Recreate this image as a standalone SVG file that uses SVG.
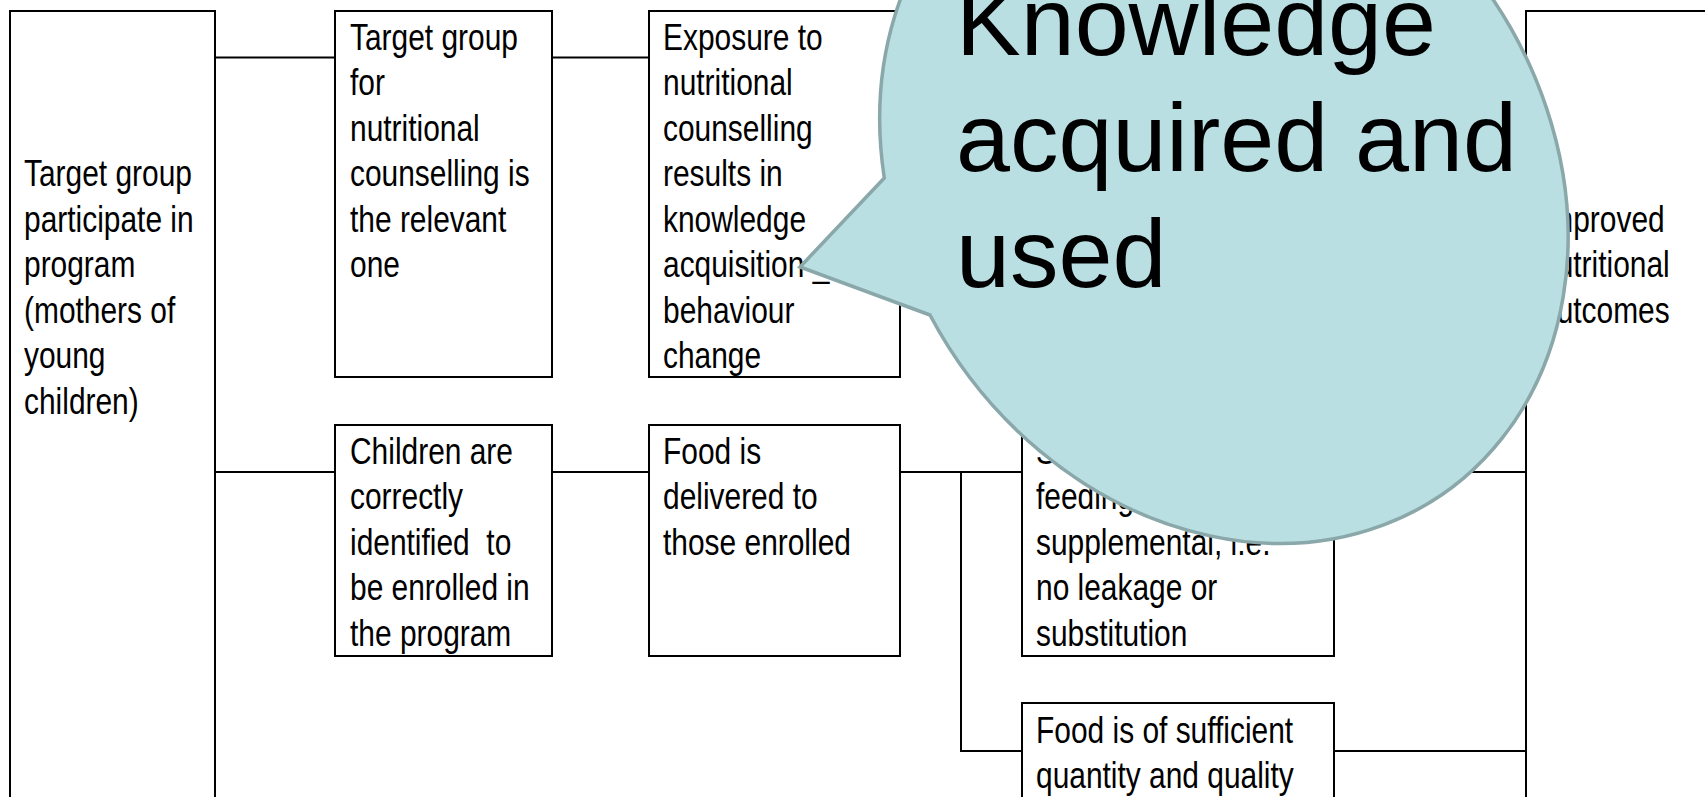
<svg xmlns="http://www.w3.org/2000/svg" width="1705" height="797" viewBox="0 0 1705 797">
<style>
.box{fill:#fff;stroke:#000;stroke-width:2}
.t{font-family:"Liberation Sans",Arial,sans-serif;font-size:36.5px;fill:#000}
.c{fill:none;stroke:#000;stroke-width:2}
.big{font-family:"Liberation Sans",Arial,sans-serif;font-size:97px;fill:#000}
</style>
<rect width="1705" height="797" fill="#fff"/>
<g id="connectors">
<line class="c" x1="215" y1="57.5" x2="335" y2="57.5"/>
<line class="c" x1="552" y1="57.5" x2="649" y2="57.5"/>
<line class="c" x1="215" y1="472" x2="335" y2="472"/>
<line class="c" x1="552" y1="472" x2="649" y2="472"/>
<line class="c" x1="900" y1="472" x2="1022" y2="472"/>
<polyline class="c" points="961,472 961,751 1022,751"/>
<line class="c" x1="1334" y1="472" x2="1526" y2="472"/>
<line class="c" x1="1334" y1="751" x2="1526" y2="751"/>
</g>
<g id="n-participate">
<rect class="box" x="10" y="11" width="205" height="800"/>
<text class="t" transform="matrix(0.82,0,0,1,24,0)"><tspan x="0" y="186.5">Target group</tspan><tspan x="0" y="232">participate in</tspan><tspan x="0" y="277.5">program</tspan><tspan x="0" y="323">(mothers of</tspan><tspan x="0" y="368.5">young</tspan><tspan x="0" y="414">children)</tspan></text>
</g>
<g id="n-targetgroup">
<rect class="box" x="335" y="11" width="217" height="366"/>
<text class="t" transform="matrix(0.82,0,0,1,350,0)"><tspan x="0" y="50">Target group</tspan><tspan x="0" y="95.5">for</tspan><tspan x="0" y="141">nutritional</tspan><tspan x="0" y="186.5">counselling is</tspan><tspan x="0" y="232">the relevant</tspan><tspan x="0" y="277.5">one</tspan></text>
</g>
<g id="n-exposure">
<rect class="box" x="649" y="11" width="251" height="366"/>
<text class="t" transform="matrix(0.82,0,0,1,663,0)"><tspan x="0" y="50">Exposure to</tspan><tspan x="0" y="95.5">nutritional</tspan><tspan x="0" y="141">counselling</tspan><tspan x="0" y="186.5">results in</tspan><tspan x="0" y="232">knowledge</tspan><tspan x="0" y="277.5">acquisition _</tspan><tspan x="0" y="323">behaviour</tspan><tspan x="0" y="368.5">change</tspan></text>
</g>
<g id="n-children">
<rect class="box" x="335" y="425" width="217" height="231"/>
<text class="t" transform="matrix(0.82,0,0,1,350,0)"><tspan x="0" y="464">Children are</tspan><tspan x="0" y="509.5">correctly</tspan><tspan x="0" y="555">identified&#160; to</tspan><tspan x="0" y="600.5">be enrolled in</tspan><tspan x="0" y="646">the program</tspan></text>
</g>
<g id="n-delivered">
<rect class="box" x="649" y="425" width="251" height="231"/>
<text class="t" transform="matrix(0.82,0,0,1,663,0)"><tspan x="0" y="464">Food is</tspan><tspan x="0" y="509.5">delivered to</tspan><tspan x="0" y="555">those enrolled</tspan></text>
</g>
<g id="n-supplemental">
<rect class="box" x="1022" y="425" width="312" height="231"/>
<text class="t" transform="matrix(0.82,0,0,1,1036,0)"><tspan x="0" y="464">Supplementary</tspan><tspan x="0" y="509.5">feeding is</tspan><tspan x="0" y="555">supplemental, i.e.</tspan><tspan x="0" y="600.5">no leakage or</tspan><tspan x="0" y="646">substitution</tspan></text>
</g>
<g id="n-quantity">
<rect class="box" x="1022" y="703" width="312" height="120"/>
<text class="t" transform="matrix(0.82,0,0,1,1036,0)"><tspan x="0" y="743">Food is of sufficient</tspan><tspan x="0" y="788.5">quantity and quality</tspan></text>
</g>
<g id="n-outcomes">
<rect class="box" x="1526" y="11" width="200" height="800"/>
<text class="t" transform="matrix(0.82,0,0,1,1540,0)"><tspan x="0" y="232">Improved</tspan><tspan x="0" y="277.5">nutritional</tspan><tspan x="0" y="323">outcomes</tspan></text>
</g>
<g id="callout">
<path d="M884.3,178 L800,267 L930,315 A384.3,322.8 55.1 1 0 884.3,178 Z" fill="#b9dfe3" stroke="#8aa7aa" stroke-width="3.5" stroke-linejoin="miter"/>
<text class="big"><tspan x="956" y="55">Knowledge</tspan><tspan x="956" y="171">acquired and</tspan><tspan x="956" y="287">used</tspan></text>
</g>
</svg>
